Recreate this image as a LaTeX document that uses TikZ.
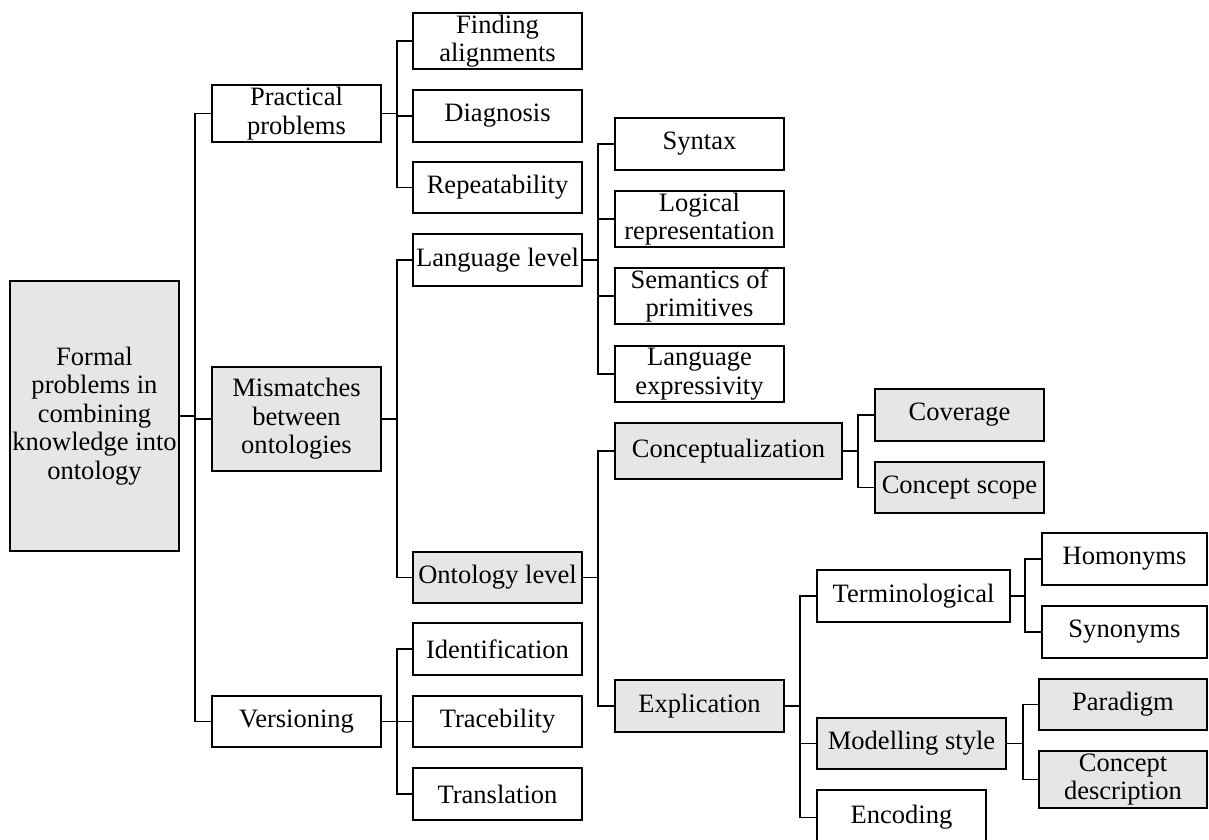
\documentclass[tikz,border=0pt]{standalone}
\usepackage{fontspec}
\setmainfont{Liberation Serif}
\definecolor{boxgray}{HTML}{E6E6E6}
\newcommand\mybox[7]{\node[#6, minimum width={(#3-#2)*0.75pt}, minimum height={(#5-#4)*0.75pt}] (#1) at ({(#2+#3)/2},{(#4+#5)/2}) {#7};}
\tikzset{
  box/.style={draw, line width=1.3pt, rectangle, inner sep=0pt, align=center, fill=white,
    font=\fontsize{19.9}{21.4}\selectfont},
  gbox/.style={box, fill=boxgray},
  conn/.style={draw, line width=1.3pt, line join=miter}
}
\begin{document}
\begin{tikzpicture}[x=0.75pt,y=-0.75pt]
\useasboundingbox (0,0) rectangle (1209,839);
\begin{scope}
\clip (0,0) rectangle (1209,839);
\mybox{root}{10}{179}{281}{551}{gbox}{Formal\\problems in\\combining\\knowledge into\\ontology}
\mybox{prac}{212}{381}{85}{142}{box}{Practical\\problems}
\mybox{mism}{212}{381}{367}{471}{gbox}{Mismatches\\between\\ontologies}
\mybox{vers}{212}{381}{696}{747}{box}{Versioning}
\mybox{find}{413}{582}{13}{69}{box}{Finding\\alignments}
\mybox{diag}{413}{582}{90}{142}{box}{Diagnosis}
\mybox{rep}{413}{582}{162}{213}{box}{Repeatability}
\mybox{lang}{413}{582}{234}{286}{box}{Language level}
\mybox{onto}{413}{582}{552}{603}{gbox}{Ontology level}
\mybox{iden}{413}{582}{623}{675}{box}{Identification}
\mybox{trac}{413}{582}{696}{747}{box}{Tracebility}
\mybox{tran}{413}{582}{768}{820}{box}{Translation}
\mybox{synt}{615}{784}{118}{170}{box}{Syntax}
\mybox{logi}{615}{784}{191}{247}{box}{Logical\\representation}
\mybox{sem}{615}{784}{268}{324}{box}{Semantics of\\primitives}
\mybox{expr}{615}{784}{346}{402}{box}{Language\\expressivity}
\mybox{conc}{615}{842}{423}{479}{gbox}{Conceptualization}
\mybox{expl}{615}{784}{680}{732}{gbox}{Explication}
\mybox{cov}{875}{1044}{389}{441}{gbox}{Coverage}
\mybox{scope}{875}{1044}{462}{513}{gbox}{Concept scope}
\mybox{term}{817}{1010}{570}{622}{box}{Terminological}
\mybox{mod}{817}{1006}{718}{769}{gbox}{Modelling style}
\mybox{enc}{817}{986}{790}{845}{box}{Encoding}
\mybox{hom}{1042}{1207}{533}{585}{box}{Homonyms}
\mybox{syno}{1042}{1207}{606}{658}{box}{Synonyms}
\mybox{para}{1039}{1207}{679}{730}{gbox}{Paradigm}
\mybox{cdesc}{1039}{1207}{751}{808}{gbox}{Concept\\description}

\coordinate (b0) at (195,0);
\coordinate (b1) at (397,0);
\coordinate (b2) at (598,0);
\coordinate (b3) at (858,0);
\coordinate (b4) at (800,0);
\coordinate (b5) at (1025,0);
\coordinate (b6) at (1023,0);

% root
\draw[conn] (root.east) -- (root.east -| b0);
\draw[conn] (prac.west) -| (b0 |- vers.west) -- (vers.west);
\draw[conn] (mism.west) -- (mism.west -| b0);
% practical
\draw[conn] (prac.east) -- (prac.east -| b1);
\draw[conn] (find.west) -| (b1 |- rep.west) -- (rep.west);
\draw[conn] (diag.west) -- (diag.west -| b1);
% mismatches
\draw[conn] (mism.east) -- (mism.east -| b1);
\draw[conn] (lang.west) -| (b1 |- onto.west) -- (onto.west);
% versioning
\draw[conn] (vers.east) -- (vers.east -| b1);
\draw[conn] (iden.west) -| (b1 |- tran.west) -- (tran.west);
\draw[conn] (trac.west) -- (trac.west -| b1);
% language level
\draw[conn] (lang.east) -- (lang.east -| b2);
\draw[conn] (synt.west) -| (b2 |- expr.west) -- (expr.west);
\draw[conn] (logi.west) -- (logi.west -| b2);
\draw[conn] (sem.west) -- (sem.west -| b2);
% ontology level
\draw[conn] (onto.east) -- (onto.east -| b2);
\draw[conn] (conc.west) -| (b2 |- expl.west) -- (expl.west);
% conceptualization
\draw[conn] (conc.east) -- (conc.east -| b3);
\draw[conn] (cov.west) -| (b3 |- scope.west) -- (scope.west);
% explication
\draw[conn] (expl.east) -- (expl.east -| b4);
\draw[conn] (term.west) -| (b4 |- enc.west) -- (enc.west);
\draw[conn] (mod.west) -- (mod.west -| b4);
% terminological
\draw[conn] (term.east) -- (term.east -| b5);
\draw[conn] (hom.west) -| (b5 |- syno.west) -- (syno.west);
% modelling style
\draw[conn] (mod.east) -- (mod.east -| b6);
\draw[conn] (para.west) -| (b6 |- cdesc.west) -- (cdesc.west);
\end{scope}
\end{tikzpicture}
\end{document}
